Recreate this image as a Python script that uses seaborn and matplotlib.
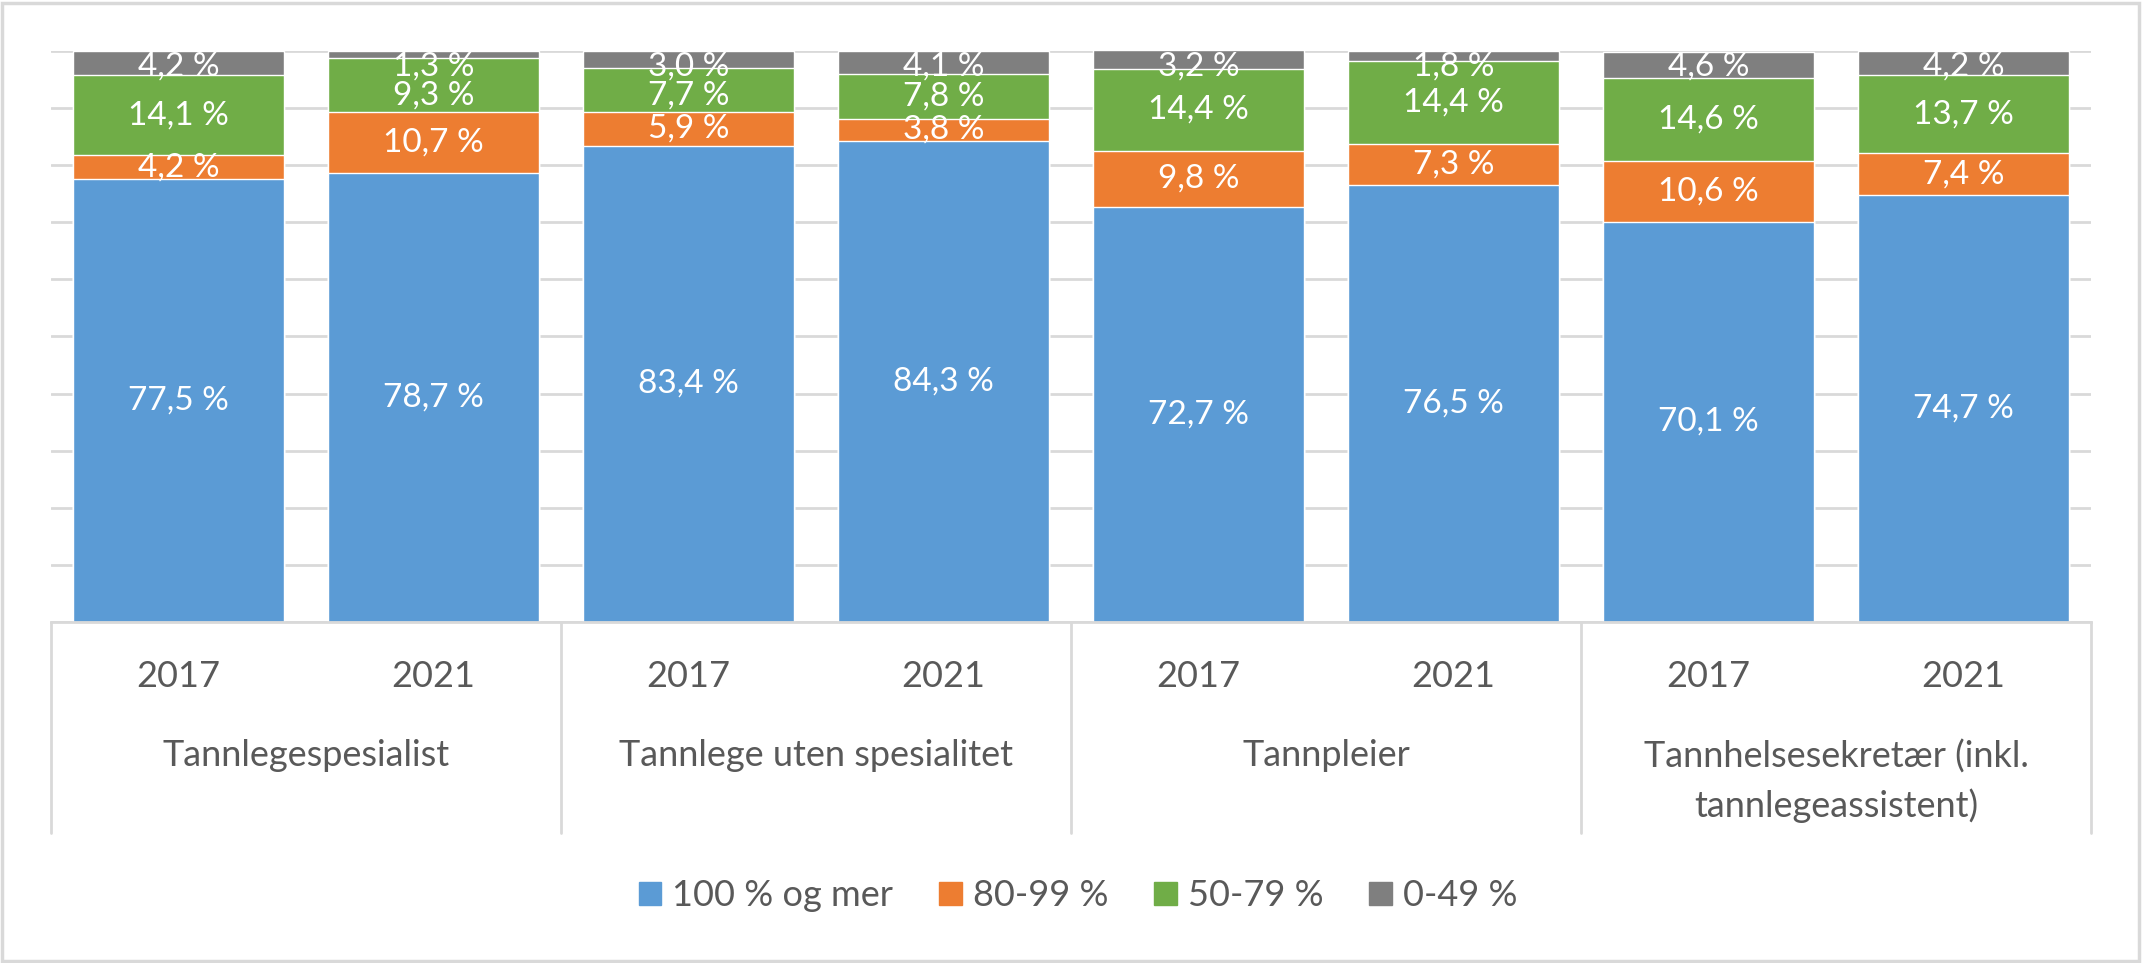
import seaborn as sns
import pandas as pd
import matplotlib.pyplot as plt
import matplotlib.transforms as mtransforms
from matplotlib.patches import Patch, Rectangle

# data
groups = ["Tannlegespesialist", "Tannlege uten spesialitet", "Tannpleier",
          "Tannhelsesekretær (inkl.\ntannlegeassistent)"]
years = ["2017", "2021"]
p100 = [77.5, 78.7, 83.4, 84.3, 72.7, 76.5, 70.1, 74.7]
p80 = [4.2, 10.7, 5.9, 3.8, 9.8, 7.3, 10.6, 7.4]
p50 = [14.1, 9.3, 7.7, 7.8, 14.4, 14.4, 14.6, 13.7]
p0 = [4.2, 1.3, 3.0, 4.1, 3.2, 1.8, 4.6, 4.2]
series_names = ["100 % og mer", "80-99 %", "50-79 %", "0-49 %"]
colors = ["#5B9BD5", "#ED7D31", "#70AD47", "#7F7F7F"]

sns.set_style("white")
plt.rcParams['font.family'] = ['Lato', 'DejaVu Sans']

keys = [g + " " + y for g in groups for y in years]
df = pd.DataFrame({'key': keys, 's0': p100, 's1': p80, 's2': p50, 's3': p0})
cols = ['s0', 's1', 's2', 's3']
cum = df[cols].cumsum(axis=1)

fig = plt.figure(figsize=(21.43, 9.63), dpi=100)
ax = fig.add_axes([51 / 2143, 341 / 963, 2040 / 2143, 571 / 963])

# stacked bars: draw cumulative totals from the top series down
for i in range(3, -1, -1):
    sns.barplot(x=df['key'], y=cum[cols[i]], color=colors[i], width=0.83,
                saturation=1, ax=ax, order=keys, zorder=2)

ax.set_xlim(-0.5, 7.5)
ax.set_ylim(0, 100)
ax.set_yticks(range(0, 101, 10))
ax.set_yticklabels([])
ax.tick_params(axis='both', length=0)
ax.set_xticklabels([])
ax.set_xlabel('')
ax.set_ylabel('')
ax.grid(axis='y', color='#D9D9D9', linewidth=2)
ax.set_axisbelow(True)
for s in ['top', 'right', 'left']:
    ax.spines[s].set_visible(False)
ax.spines['bottom'].set_color('#D9D9D9')
ax.spines['bottom'].set_linewidth(2)

# data labels
for j in range(len(keys)):
    vals = [df.loc[j, c] for c in cols]
    base = 0
    prev = None
    centers = []
    for v in vals:
        centers.append(base + v / 2)
        base += v
    # keep labels inside plot and avoid overlap from top down
    pos = [0] * 4
    for i in range(3, -1, -1):
        c = min(centers[i], 97.2)
        if prev is not None:
            c = min(c, prev - 5)
        pos[i] = c
        prev = c
    for i in range(4):
        txt = ("%.1f %%" % vals[i]).replace('.', ',')
        ax.text(j, pos[i], txt, ha='center', va='center', color='white',
                fontsize=24, zorder=3)

# category axis: years, groups, separators
trans = mtransforms.blended_transform_factory(ax.transData, ax.transAxes)
for j in range(len(keys)):
    ax.text(j, -0.095, years[j % 2], ha='center', va='center', color='#595959',
            fontsize=26, transform=trans)
for g, name in enumerate(groups):
    ax.text(2 * g + 0.5, -0.205, name, ha='center', va='top', color='#595959',
            fontsize=26, transform=trans, linespacing=1.55)
for xs in [-0.5, 1.5, 3.5, 5.5, 7.5]:
    ax.plot([xs, xs], [0, -0.37], color='#D9D9D9', linewidth=2,
            transform=trans, clip_on=False)

handles = [Patch(color=c) for c in colors]
fig.legend(handles, series_names, loc='center', bbox_to_anchor=(0.503, 0.07),
           ncol=4, frameon=False, fontsize=26, handlelength=0.63,
           handleheight=0.63, handletextpad=0.3, columnspacing=1.27,
           labelcolor='#595959')

# chart border
fig.patches.append(Rectangle((0.001, 0.002), 0.997, 0.995, transform=fig.transFigure,
                             fill=False, edgecolor='#D9D9D9', linewidth=2.5))

fig.savefig('out.png', dpi=100)
